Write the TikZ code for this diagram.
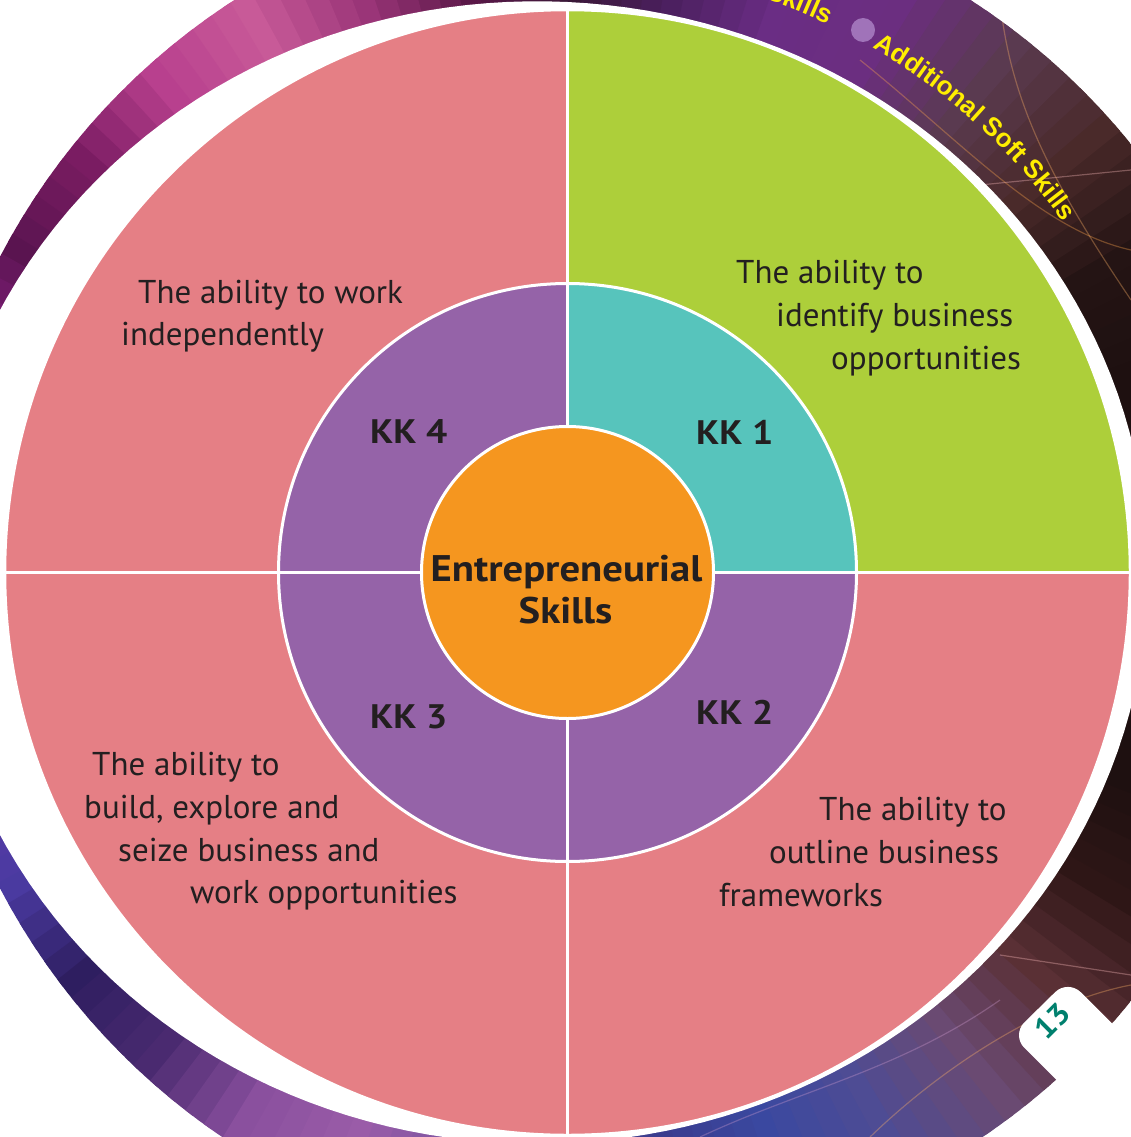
\documentclass[tikz,border=0pt]{standalone}
\usepackage{fontspec}
\setmainfont{PT Sans}
\newfontfamily\widefont[FakeStretch=1.1]{PT Sans}
\newfontfamily\arialfont{Liberation Sans}
\usetikzlibrary{decorations.text}
\definecolor{pinkq}{RGB}{229,127,133}
\definecolor{greenq}{RGB}{173,207,58}
\definecolor{tealq}{RGB}{87,196,188}
\definecolor{purpq}{RGB}{149,99,168}
\definecolor{orangeq}{RGB}{245,150,31}
\definecolor{txtq}{RGB}{35,31,32}
\definecolor{yellowq}{RGB}{255,238,0}
\definecolor{dotq}{RGB}{160,115,185}
\definecolor{numq}{RGB}{0,128,110}
% band colour stops, every 10 degrees (counter-clockwise from the right)
\definecolor{bc0}{HTML}{1C0F0F}\definecolor{bc1}{HTML}{1E0F10}\definecolor{bc2}{HTML}{1E1010}
\definecolor{bc3}{HTML}{241414}\definecolor{bc4}{HTML}{4A2A2A}\definecolor{bc5}{HTML}{5A3A50}
\definecolor{bc6}{HTML}{6B2E80}\definecolor{bc7}{HTML}{6A2D84}\definecolor{bc8}{HTML}{4C2060}
\definecolor{bc9}{HTML}{3A1838}\definecolor{bc10}{HTML}{5A1848}\definecolor{bc11}{HTML}{9A3578}
\definecolor{bc12}{HTML}{C85A98}\definecolor{bc13}{HTML}{B8408E}\definecolor{bc14}{HTML}{7A1C62}
\definecolor{bc15}{HTML}{5A1450}\definecolor{bc16}{HTML}{8A2285}\definecolor{bc17}{HTML}{9A2A90}
\definecolor{bc18}{HTML}{8A2A8A}\definecolor{bc19}{HTML}{6A30A0}\definecolor{bc20}{HTML}{5A3AA8}
\definecolor{bc21}{HTML}{4A3AA0}\definecolor{bc22}{HTML}{2E1E60}\definecolor{bc23}{HTML}{4A2A70}
\definecolor{bc24}{HTML}{8A509E}\definecolor{bc25}{HTML}{9A5CA8}\definecolor{bc26}{HTML}{7A54A0}
\definecolor{bc27}{HTML}{4A4090}\definecolor{bc28}{HTML}{3A3C8E}\definecolor{bc29}{HTML}{3A48A0}
\definecolor{bc30}{HTML}{4E4C94}\definecolor{bc31}{HTML}{6A4A72}\definecolor{bc32}{HTML}{5A3035}
\definecolor{bc33}{HTML}{2E1616}\definecolor{bc34}{HTML}{1E1010}\definecolor{bc35}{HTML}{1C0F0F}
\begin{document}
\begin{tikzpicture}[x=1pt,y=-1pt,
  body/.style={font=\fontsize{33}{38}\selectfont, text=txtq, inner sep=0pt, anchor=base west},
  kk/.style={font=\widefont\bfseries\fontsize{34}{40}\selectfont, text=txtq, inner sep=0pt, anchor=base west},
  core/.style={font=\widefont\bfseries\fontsize{37}{42}\selectfont, text=txtq, inner sep=0pt, anchor=base},
  bandtext/.style={decorate, decoration={text along path, text={|\arialfont\bfseries\fontsize{26}{26}\selectfont\color{yellowq}|#1}}},
  sep/.style={white, line width=3pt},
  streak/.style={line width=1.2pt, opacity=0.35}]
\useasboundingbox (0,0) rectangle (1131,1137);
\clip (0,0) rectangle (1131,1137);
\fill[white] (0,0) rectangle (1131,1137);
\coordinate (O) at (567.5,572.5);
% ---- decorative band ----
\begin{scope}
  \clip plot[domain=0:360, samples=181, variable=\t]
    ({567.5+(680+35*cos(\t))*cos(\t)}, {572.5-(680+35*cos(\t))*sin(\t)}) -- cycle;
  \foreach \i in {0,...,35}{
    \pgfmathtruncatemacro\nx{mod(\i+1,36)}
    \foreach \j in {0,...,4}{
      \pgfmathtruncatemacro\p{100-20*\j}
      \pgfmathsetmacro\ang{10*\i+2*\j}
      \colorlet{wedgec}{bc\i!\p!bc\nx}
      \fill[wedgec] (O) -- +({-\ang+1.4}:1000) -- +({-\ang-1.4}:1000) -- cycle;
    }
  }
  % light streaks
  \draw[streak, orange!70!white] (860,60) .. controls (960,140) and (1040,230) .. (1131,250);
  \draw[streak, orange!60!white] (1000,0) .. controls (1010,100) and (1050,180) .. (1131,300);
  \draw[streak, pink] (980,185) -- (1131,170);
  \draw[streak, pink] (1000,955) -- (1131,975);
  \draw[streak, orange!60!white] (870,1137) .. controls (950,1060) and (1050,1000) .. (1131,985);
  \draw[streak, violet!40!white] (700,1137) .. controls (800,1090) and (900,1070) .. (1000,1000);
  \draw[streak, pink!70!white] (120,1137) .. controls (80,1060) and (40,1000) .. (0,960);
  \draw[streak, pink!80!white] (150,0) .. controls (120,60) and (60,120) .. (0,180);
\end{scope}
\fill[white] plot[domain=0:360, samples=181, variable=\t]
  ({567.5+(589-26.8*cos(\t)+18.5*cos(2*\t))*cos(\t)}, {572.5-(589-26.8*cos(\t)+18.5*cos(2*\t))*sin(\t)}) -- cycle;
% band labels
\fill[dotq] (863,30) circle[radius=12];
\path[bandtext=Skills] (O) ++(-71:607) arc[start angle=-71, end angle=-63, radius=607];
\path[bandtext=Additional Soft Skills] (O) ++(-59.8:607) arc[start angle=-59.8, end angle=-30, radius=607];
% page tab
\fill[white, rounded corners=18pt] (1011.5,1035) -- (1068,979.5) -- (1268,1179.5) -- (1211.5,1235) -- cycle;
\node[font=\widefont\bfseries\fontsize{30}{30}\selectfont, text=numq, rotate=45, inner sep=0pt] (page) at (1052,1021) {13};
% ---- main circle ----
\fill[pinkq] (O) circle[radius=562.5];
\fill[greenq] (O) -- +(562.5,0) arc[start angle=0, end angle=-90, radius=562.5] -- cycle;
\draw[white, line width=2.5pt] (O) circle[radius=562.5];
\draw[sep] (O) +(0,-563) -- +(0,563);
\draw[sep] (O) +(-563,0) -- +(563,0);
\fill[purpq] (O) circle[radius=289];
\fill[tealq] (O) -- +(289,0) arc[start angle=0, end angle=-90, radius=289] -- cycle;
\draw[sep] (O) +(0,-289) -- +(0,289);
\draw[sep] (O) +(-289,0) -- +(289,0);
\draw[sep] (O) circle[radius=289];
\filldraw[fill=orangeq, draw=white, line width=3pt] (O) circle[radius=146];
% ---- texts ----
\node[core] (core1) at (566.5,581) {Entrepreneurial};
\node[core] (core2) at (565.5,623) {Skills};
\node[kk] (kk4) at (370,443) {KK 4};
\node[kk] (kk1) at (696,444) {KK 1};
\node[kk] (kk3) at (370,728) {KK 3};
\node[kk] (kk2) at (696,724) {KK 2};
\node[body] (tl1) at (138,303) {The ability to work};
\node[body] (tl2) at (121,345) {independently};
\node[body] (tr1) at (736,283) {The ability to};
\node[body] (tr2) at (776,326) {identify business};
\node[body] (tr3) at (831,369) {opportunities};
\node[body] (bl1) at (92,775) {The ability to};
\node[body] (bl2) at (84,818) {build, explore and};
\node[body] (bl3) at (118,861) {seize business and};
\node[body] (bl4) at (190,903) {work opportunities};
\node[body] (br1) at (819,820) {The ability to};
\node[body] (br2) at (769,863) {outline business};
\node[body] (br3) at (719,906) {frameworks};
\end{tikzpicture}
\end{document}
